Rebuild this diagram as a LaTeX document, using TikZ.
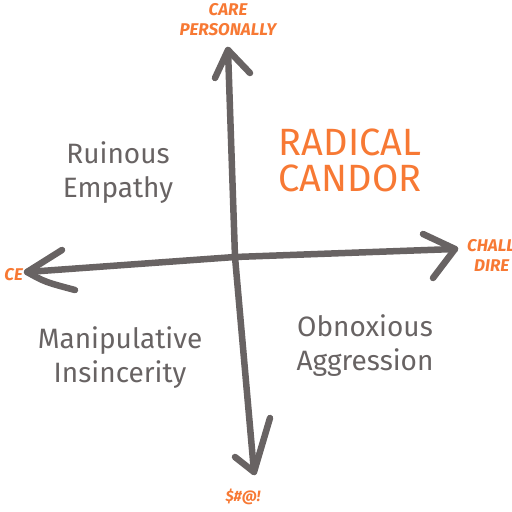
\documentclass[tikz,border=0pt]{standalone}
\usepackage{fontspec}
\setmainfont{Fira Sans}
\definecolor{axisgray}{RGB}{104,99,99}
\definecolor{candor}{RGB}{247,121,52}
\tikzset{
  axis/.style={line width=6.5pt, draw=axisgray, line cap=round, line join=round},
  quadrant/.style={text=axisgray, font=\fontsize{28}{34}\selectfont, align=center, inner sep=0pt},
  axislabel/.style={text=candor, font=\bfseries\itshape\fontsize{17}{20}\selectfont, align=center, inner sep=0pt},
}
\begin{document}
\begin{tikzpicture}[x=1pt, y=-1pt]
    \useasboundingbox (0,0) rectangle (512,512);
    \clip (0,0) rectangle (512,512);

    % Axis ends
    \coordinate (top) at (228,50);
    \coordinate (bottom) at (254,472);
    \coordinate (left) at (27,272);
    \coordinate (right) at (455,249);
    \coordinate (mid) at (235,257);

    % Axes
    \draw[axis] (top) -- (mid) -- (bottom);
    \draw[axis] (left) -- (mid) -- (right);

    % Arrow heads
    \draw[axis] (215,78) -- (top) -- (250,73);
    \draw[axis] (235,457) -- (bottom) -- (270,418);
    \draw[axis] (423,234) -- (right) -- (433,278);
    \draw[axis] (62,250) -- (left) .. controls (45,282) .. (75,290);

    % Axis labels
    \node[axislabel] (care) at (228,20) {CARE\\PERSONALLY};
    \node[axislabel, anchor=west] (chall) at (467,246) {CHALL};
    \node[axislabel, anchor=west] (dire) at (474,266) {DIRE};
    \node[axislabel, anchor=east] (silence) at (23,275) {CE};
    \node[axislabel, font=\bfseries\itshape\fontsize{15}{18}\selectfont] (curse) at (243,497) {\$\#@!};

    % Quadrants
    \node[quadrant] (ruinous) at (118,173) {Ruinous\\Empathy};
    \node[quadrant] (manipulative) at (120,358) {Manipulative\\Insincerity};
    \node[quadrant] (obnoxious) at (365,346) {Obnoxious\\Aggression};
    \node[quadrant, text=candor, font=\fontsize{38}{36}\selectfont] (radical) at (350,160) {RADICAL\\CANDOR};

\end{tikzpicture}
\end{document}
